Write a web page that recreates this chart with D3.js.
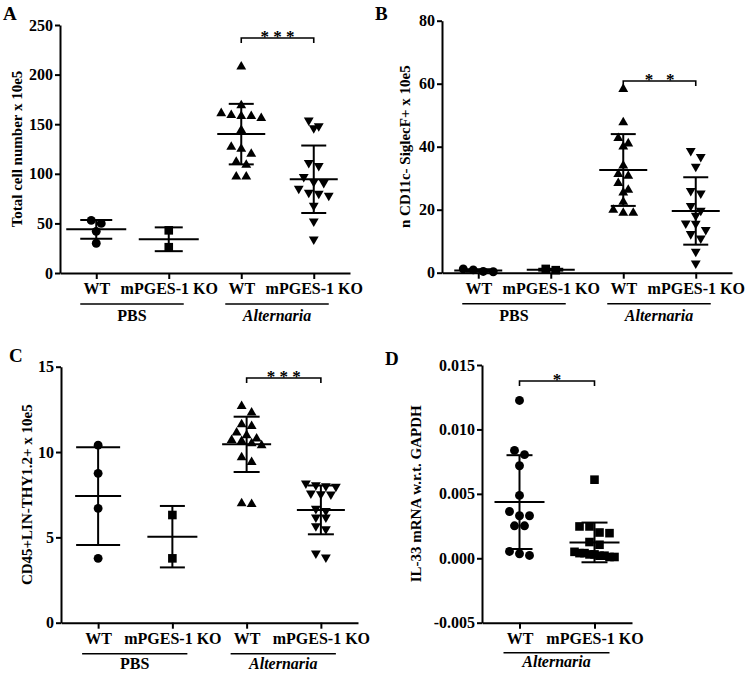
<!DOCTYPE html>
<html>
<head>
<meta charset="utf-8">
<script src="https://cdn.jsdelivr.net/npm/d3@7"></script>
<style>
  body { margin: 0; background: #fff; }
  svg { font-family: "Liberation Serif", "Times New Roman", serif; font-weight: bold; }
</style>
</head>
<body>
<svg id="fig" width="745" height="673"></svg>
<script>
// ---- data ----
const genotypes = ["WT", "mPGES-1 KO", "WT", "mPGES-1 KO"];
const genotypesD = ["WT", "mPGES-1 KO"];

// A: total cell number x 10e5
const aWtPbs = [50, 53, 42, 30];
const aKoPbs = [43, 26];
const aWtAlt = [208, 161, 159, 156, 158, 158, 169, 144, 127, 125, 120, 112, 109, 97, 97];
const aKoAlt = [154, 146, 148, 111, 108, 97, 91, 92, 85, 80, 78, 81, 68, 52, 34];
const aMean = [44, 34, 140, 94.5];
const aSd = [9.5, 12, 30.5, 34];

// B: n CD11c- SiglecF+ x 10e5
const bWtPbs = [0.9, 0.4, 0.3, 1.2];
const bKoPbs = [1.2, 0.8];
const bWtAlt = [58.3, 47.7, 42.7, 40, 41, 34, 31.3, 30.7, 28.4, 26.3, 25.4, 22.5, 19.9, 19, 19];
const bKoAlt = [38.7, 36.8, 33.7, 26, 25.2, 21.2, 19.7, 18.1, 15.7, 13.6, 15.6, 12.3, 10.9, 6.7, 3];
const bMean = [0.7, 0.95, 32.6, 19.6];
const bSd = [0.4, 0.3, 11.4, 10.7];

// C: CD45+LIN-THY1.2+ x 10e5
const cWtPbs = [10.4, 8.75, 6.7, 3.77];
const cKoPbs = [6.31, 3.77];
const cWtAlt = [12.69, 12.3, 11.52, 11.62, 11.13, 10.78, 10.98, 10.64, 10.39, 10.51, 10.7, 9.69, 9.41, 6.95, 6.99];
const cKoAlt = [7.97, 8.07, 8.17, 8.01, 7.54, 7.52, 7.58, 6.56, 6.68, 6.17, 6.17, 5.66, 5.49, 3.83, 4.07];
const cMean = [7.42, 5.04, 10.45, 6.61];
const cSd = [2.86, 1.8, 1.62, 1.43];

// D: IL-33 mRNA w.r.t. GAPDH
const dWt = [0.01225, 0.00837, 0.00804, 0.00718, 0.00488, 0.00363, 0.0033, 0.0033, 0.00252, 0.00252, 0.00053, 0.00035, 0.00022];
const dKo = [0.0061, 0.00247, 0.00247, 0.002, 0.00195, 0.00126, 0.00105, 0.0005, 0.0004, 0.0004, 0.0003, 0.0003, 0.0002, 0.0002, 0.0001, 0.0001];
const dMean = [0.00436, 0.00123];
const dSd = [0.00364, 0.00154];

const svg = d3.select('#fig');

const shapes = {
  circle: { type: d3.symbolCircle, size: 62, rot: 0 },
  square: { type: d3.symbolSquare, size: 74, rot: 0 },
  up: { type: d3.symbolTriangle, size: 42, rot: 0 },
  down: { type: d3.symbolTriangle, size: 42, rot: 180 }
};

// spread points with similar values side by side, like a column scatter
function spread(values, y, step, maxHalf) {
  const idx = d3.range(values.length).sort((a, b) => values[b] - values[a]);
  const rows = [];
  idx.forEach(i => {
    const row = rows[rows.length - 1];
    if (row && Math.abs(y(values[i]) - y(values[row[0]])) < 7) row.push(i);
    else rows.push([i]);
  });
  const off = new Array(values.length).fill(0);
  rows.forEach(row => {
    const n = row.length;
    const sp = n > 1 ? Math.min(step, 2 * maxHalf / (n - 1)) : 0;
    row.forEach((i, k) => { off[i] = (k - (n - 1) / 2) * sp; });
  });
  return off;
}

const hyphen = f => v => f(v).replace('\u2212', '-');

function styleAxis(a) {
  a.attr('font-family', null).attr('font-size', null);
  a.select('.domain').attr('stroke-width', 2);
  a.selectAll('.tick line').attr('stroke-width', 2);
  a.selectAll('.tick text').attr('fill', '#000').style('font-size', '16px');
}

function drawPanel(p) {
  const g = svg.append('g');

  const x = d3.scalePoint().domain(d3.range(p.labels.length)).range([p.x0, p.x1]).padding(0.5);
  const y = d3.scaleLinear().domain(p.domain).range([p.yBottom, p.yTop]);

  // panel letter
  g.append('text').attr('x', p.letter[1]).attr('y', p.letter[2])
    .style('font-size', '19px').text(p.letter[0]);

  // y axis
  g.append('g')
    .attr('transform', `translate(${p.x0},0)`)
    .call(d3.axisLeft(y).tickValues(p.ticks).tickFormat(hyphen(p.fmt)).tickSize(5).tickPadding(2).tickSizeOuter(0))
    .call(styleAxis);

  // x axis
  g.append('g')
    .attr('transform', `translate(0,${p.yBottom})`)
    .call(d3.axisBottom(x).tickFormat(i => p.labels[i]).tickSize(6).tickPadding(4).tickSizeOuter(0))
    .call(styleAxis);

  // y title
  g.append('text')
    .attr('transform', `translate(${p.titleX},${(p.yTop + p.yBottom) / 2}) rotate(-90)`)
    .attr('text-anchor', 'middle')
    .style('font-size', '15px')
    .text(p.title);

  // treatment underlines
  p.treatments.forEach(t => {
    const xa = x(t.from) - 16, xb = x(t.to) + 15;
    g.append('line').attr('x1', xa).attr('x2', xb)
      .attr('y1', p.yBottom + p.lineDy).attr('y2', p.yBottom + p.lineDy)
      .attr('stroke', '#000').attr('stroke-width', 1.6);
    g.append('text').attr('x', (xa + xb) / 2).attr('y', p.yBottom + p.textDy)
      .attr('text-anchor', 'middle')
      .style('font-size', '16px')
      .style('font-style', t.italic ? 'italic' : 'normal')
      .text(t.label);
  });

  // points
  p.groups.forEach((grp, gi) => {
    const off = spread(grp.values, y, 10, 20);
    const sh = shapes[grp.shape];
    const sym = d3.symbol().type(sh.type).size(sh.size);
    g.append('g').selectAll('path').data(grp.values).join('path')
      .attr('d', sym)
      .attr('transform', (v, i) => `translate(${x(gi) + off[i]},${y(v)}) rotate(${sh.rot})`)
      .attr('fill', '#000');
  });

  // mean and SD
  p.mean.forEach((m, gi) => {
    const cx = x(gi);
    const mh = p.meanHalf[gi], ch = p.capHalf[gi];
    const lo = m - p.sd[gi], hi = m + p.sd[gi];
    const e = g.append('g').attr('stroke', '#000').attr('stroke-width', 2);
    e.append('line').attr('x1', cx).attr('x2', cx).attr('y1', y(lo)).attr('y2', y(hi));
    e.append('line').attr('x1', cx - ch).attr('x2', cx + ch).attr('y1', y(lo)).attr('y2', y(lo));
    e.append('line').attr('x1', cx - ch).attr('x2', cx + ch).attr('y1', y(hi)).attr('y2', y(hi));
    e.append('line').attr('x1', cx - mh).attr('x2', cx + mh).attr('y1', y(m)).attr('y2', y(m));
  });

  // significance bracket
  const s = p.sig;
  const xa = x(s.from), xb = x(s.to);
  g.append('path')
    .attr('d', `M${xa},${s.y + 5}V${s.y}H${xb}V${s.y + 5}`)
    .attr('fill', 'none').attr('stroke', '#000').attr('stroke-width', 1.6);
  g.append('text').attr('x', (xa + xb) / 2).attr('y', s.y + s.starDy)
    .attr('text-anchor', 'middle')
    .style('font-size', '17px')
    .style('white-space', 'pre')
    .text(s.text);
}

drawPanel({
  letter: ['A', 3, 20],
  x0: 60, x1: 350, yTop: 25, yBottom: 273,
  domain: [0, 250], ticks: [0, 50, 100, 150, 200, 250], fmt: d3.format('d'),
  title: 'Total cell number x 10e5', titleX: 22,
  labels: genotypes,
  groups: [
    { values: aWtPbs, shape: 'circle' },
    { values: aKoPbs, shape: 'square' },
    { values: aWtAlt, shape: 'up' },
    { values: aKoAlt, shape: 'down' }
  ],
  mean: aMean, sd: aSd,
  meanHalf: [30, 30, 24, 24], capHalf: [16, 14, 12.5, 12.5],
  treatments: [{ label: 'PBS', from: 0, to: 1 }, { label: 'Alternaria', italic: true, from: 2, to: 3 }],
  lineDy: 31, textDy: 48,
  sig: { from: 2, to: 3, y: 38, text: '* * *', starDy: 4 }
});

drawPanel({
  letter: ['B', 375, 20],
  x0: 442, x1: 732, yTop: 20.7, yBottom: 272.7,
  domain: [0, 80], ticks: [0, 20, 40, 60, 80], fmt: d3.format('d'),
  title: 'n CD11c- SiglecF+ x 10e5', titleX: 410,
  labels: genotypes,
  groups: [
    { values: bWtPbs, shape: 'circle' },
    { values: bKoPbs, shape: 'square' },
    { values: bWtAlt, shape: 'up' },
    { values: bKoAlt, shape: 'down' }
  ],
  mean: bMean, sd: bSd,
  meanHalf: [24, 24, 24, 24], capHalf: [12.5, 12.5, 12.5, 12.5],
  treatments: [{ label: 'PBS', from: 0, to: 1 }, { label: 'Alternaria', italic: true, from: 2, to: 3 }],
  lineDy: 31, textDy: 48,
  sig: { from: 2, to: 3, y: 81, text: '*   *', starDy: 4 }
});

drawPanel({
  letter: ['C', 9, 362],
  x0: 61, x1: 358, yTop: 366.7, yBottom: 622.7,
  domain: [0, 15], ticks: [0, 5, 10, 15], fmt: d3.format('d'),
  title: 'CD45+LIN-THY1.2+ x 10e5', titleX: 32,
  labels: genotypes,
  groups: [
    { values: cWtPbs, shape: 'circle' },
    { values: cKoPbs, shape: 'square' },
    { values: cWtAlt, shape: 'up' },
    { values: cKoAlt, shape: 'down' }
  ],
  mean: cMean, sd: cSd,
  meanHalf: [23, 25, 24.5, 24], capHalf: [22, 12.5, 13, 13],
  treatments: [{ label: 'PBS', from: 0, to: 1 }, { label: 'Alternaria', italic: true, from: 2, to: 3 }],
  lineDy: 31, textDy: 46,
  sig: { from: 2, to: 3, y: 378, text: '* * *', starDy: 4 }
});

drawPanel({
  letter: ['D', 385, 365],
  x0: 482, x1: 632, yTop: 365, yBottom: 622.7,
  domain: [-0.005, 0.015], ticks: [-0.005, 0, 0.005, 0.01, 0.015], fmt: d3.format('.3f'),
  title: 'IL-33 mRNA w.r.t. GAPDH', titleX: 421,
  labels: genotypesD,
  groups: [
    { values: dWt, shape: 'circle' },
    { values: dKo, shape: 'square' }
  ],
  mean: dMean, sd: dSd,
  meanHalf: [25, 25], capHalf: [13, 13],
  treatments: [{ label: 'Alternaria', italic: true, from: 0, to: 1 }],
  lineDy: 30, textDy: 44,
  sig: { from: 0, to: 1, y: 381, text: '*', starDy: 4 }
});
</script>
</body>
</html>
